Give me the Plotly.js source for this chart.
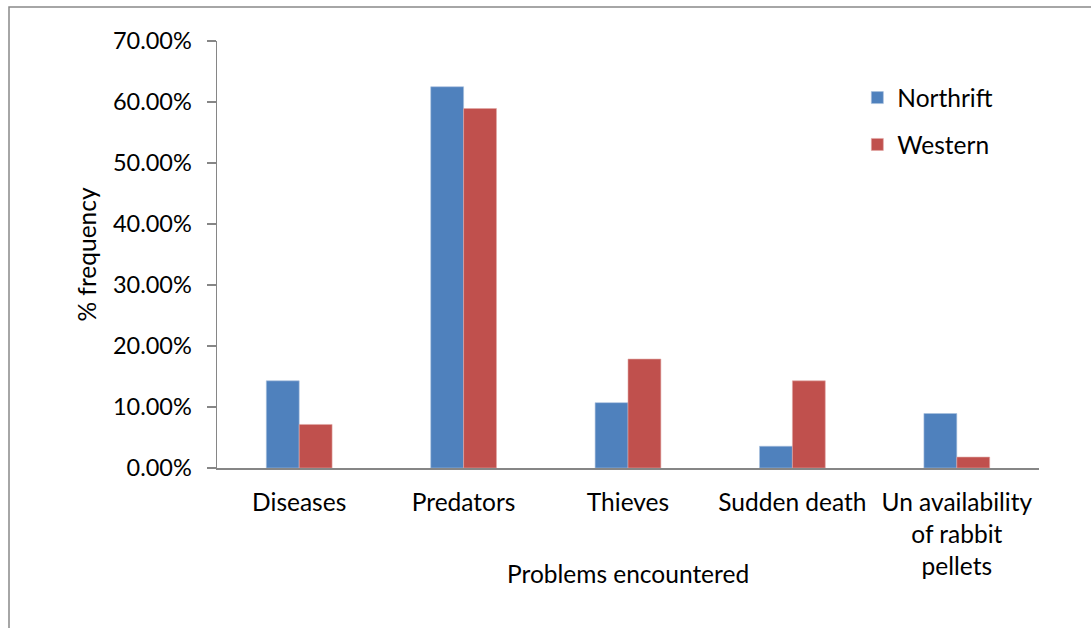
<!DOCTYPE html>
<html>
<head>
<meta charset="utf-8">
<script src="https://cdn.plot.ly/plotly-3.0.1.min.js"></script>
<style>
  html, body { margin: 0; padding: 0; background: #ffffff; }
  #chart { width: 1091px; height: 628px; }
</style>
</head>
<body>
<div id="chart"></div>
<script>
// Problems encountered by rabbit farmers, % frequency per region
const categories = [
  "Diseases",
  "Predators",
  "Thieves",
  "Sudden death",
  "Un availability<br>of rabbit<br>pellets"
];
const northrift = [0.1429, 0.625, 0.1071, 0.0357, 0.0893];
const western = [0.0714, 0.5893, 0.1786, 0.1429, 0.0179];
const yTicks = [0, 0.1, 0.2, 0.3, 0.4, 0.5, 0.6, 0.7];

const FONT = "Lato, 'Open Sans', sans-serif";
const GRAY = "#868686";
const FS = 24.5;
const FS_Y = 23.5;

const traces = [
  {
    type: "bar",
    name: "Northrift",
    legendgroup: "northrift",
    x: categories,
    y: northrift,
    marker: { color: "#4f81bd", line: { color: "#a7c0de", width: 0.6 } },
    hoverinfo: "y"
  },
  {
    type: "bar",
    name: "Western",
    legendgroup: "western",
    x: categories,
    y: western,
    marker: { color: "#c0504d", line: { color: "#e0a8a6", width: 0.6 } },
    hoverinfo: "y"
  }
];

const L = 217, R = 52, T = 41, B = 160;
const W = 1091, H = 628;
const pw = W - L - R, ph = H - T - B;

const layout = {
  width: W,
  height: H,
  margin: { l: L, r: R, t: T, b: B, pad: 0 },
  paper_bgcolor: "#ffffff",
  plot_bgcolor: "#ffffff",
  font: { family: FONT, size: FS, color: "#000000" },
  barmode: "group",
  bargap: 0.6,
  bargroupgap: 0,
  showlegend: true,
  legend: {
    x: 0.779, y: 0.92, xanchor: "left", yanchor: "top",
    font: { family: FONT, size: FS, color: "#000000" },
    tracegroupgap: 12,
    itemwidth: 30,
    bgcolor: "rgba(0,0,0,0)"
  },
  xaxis: {
    type: "category",
    showline: true, linecolor: GRAY, linewidth: 2,
    ticks: "", showgrid: false, zeroline: false,
    ticklabelstandoff: 12,
    tickfont: { family: FONT, size: FS, color: "#000000" }
  },
  yaxis: {
    range: [0, 0.7],
    tickvals: yTicks,
    tickformat: ".2%",
    showline: true, linecolor: GRAY, linewidth: 1.5,
    ticks: "outside", ticklen: 9, tickcolor: GRAY, tickwidth: 1.5,
    ticklabelstandoff: 10,
    showgrid: false, zeroline: false,
    tickfont: { family: FONT, size: FS_Y, color: "#000000" },
    title: { text: "% frequency", font: { family: FONT, size: FS, color: "#000000" }, standoff: 9 }
  },
  annotations: [
    {
      // x-axis title, placed beside the wrapped category labels
      text: "Problems encountered",
      xref: "paper", yref: "paper",
      x: 0.5, y: -(573 - (T + ph)) / ph,
      xanchor: "center", yanchor: "middle",
      showarrow: false,
      font: { family: FONT, size: FS, color: "#000000" }
    }
  ],
  shapes: [
    {
      type: "rect", xref: "paper", yref: "paper",
      x0: (9 - L) / pw, x1: (W + 5 - L) / pw,
      y0: -(H + 5 - T - ph) / ph, y1: (ph + T - 7) / ph,
      line: { color: "#898989", width: 1.5 },
      fillcolor: "rgba(0,0,0,0)", layer: "below"
    }
  ]
};

Plotly.newPlot("chart", traces, layout, { displayModeBar: false, staticPlot: true });
</script>
</body>
</html>
